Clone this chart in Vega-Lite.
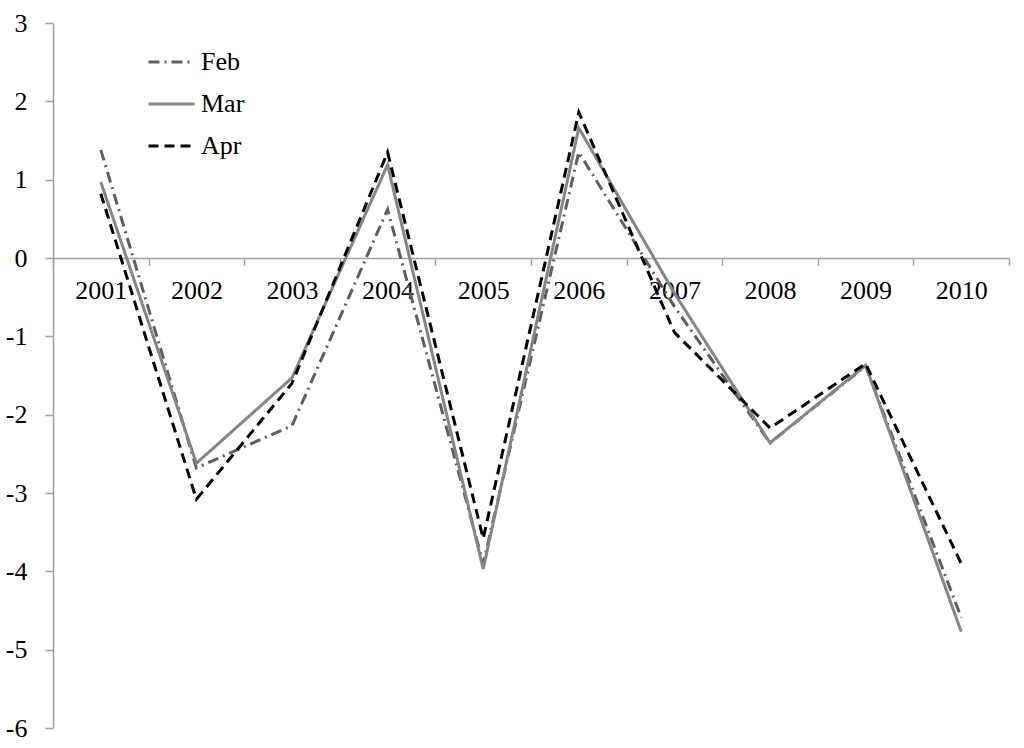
{
  "$schema": "https://vega.github.io/schema/vega-lite/v6.json",
  "width": 956,
  "height": 705,
  "autosize": "none",
  "padding": {"left": 53, "top": 23, "right": 15, "bottom": 20},
  "background": "white",
  "config": {
    "view": {"stroke": null},
    "font": "Liberation Serif"
  },
  "data": {
    "values": [
      {"year": "2001", "month": "Feb", "value": 1.38},
      {"year": "2002", "month": "Feb", "value": -2.68},
      {"year": "2003", "month": "Feb", "value": -2.14},
      {"year": "2004", "month": "Feb", "value": 0.62},
      {"year": "2005", "month": "Feb", "value": -3.9},
      {"year": "2006", "month": "Feb", "value": 1.35},
      {"year": "2007", "month": "Feb", "value": -0.62},
      {"year": "2008", "month": "Feb", "value": -2.36},
      {"year": "2009", "month": "Feb", "value": -1.38},
      {"year": "2010", "month": "Feb", "value": -4.59},
      {"year": "2001", "month": "Mar", "value": 0.97},
      {"year": "2002", "month": "Mar", "value": -2.62},
      {"year": "2003", "month": "Mar", "value": -1.53},
      {"year": "2004", "month": "Mar", "value": 1.19},
      {"year": "2005", "month": "Mar", "value": -3.97},
      {"year": "2006", "month": "Mar", "value": 1.66},
      {"year": "2007", "month": "Mar", "value": -0.45},
      {"year": "2008", "month": "Mar", "value": -2.36},
      {"year": "2009", "month": "Mar", "value": -1.37},
      {"year": "2010", "month": "Mar", "value": -4.77},
      {"year": "2001", "month": "Apr", "value": 0.82},
      {"year": "2002", "month": "Apr", "value": -3.08},
      {"year": "2003", "month": "Apr", "value": -1.6},
      {"year": "2004", "month": "Apr", "value": 1.35},
      {"year": "2005", "month": "Apr", "value": -3.58},
      {"year": "2006", "month": "Apr", "value": 1.86},
      {"year": "2007", "month": "Apr", "value": -0.95},
      {"year": "2008", "month": "Apr", "value": -2.17},
      {"year": "2009", "month": "Apr", "value": -1.35},
      {"year": "2010", "month": "Apr", "value": -3.9}
    ]
  },
  "mark": {"type": "line", "strokeWidth": 3},
  "encoding": {
    "x": {
      "field": "year",
      "type": "ordinal",
      "bandPosition": 0.5,
      "scale": {"type": "band", "paddingInner": 0, "paddingOuter": 0},
      "axis": {
        "title": null,
        "orient": "bottom",
        "offset": -470,
        "tickBand": "extent",
        "labelAngle": 0,
        "labelFontSize": 26,
        "labelColor": "black",
        "labelPadding": 12,
        "tickSize": 7,
        "tickColor": "#a0a0a0",
        "tickWidth": 1.5,
        "domainColor": "#a0a0a0",
        "domainWidth": 1.5,
        "grid": false
      }
    },
    "y": {
      "field": "value",
      "type": "quantitative",
      "scale": {"domain": [-6, 3], "nice": false, "zero": false},
      "axis": {
        "title": null,
        "values": [-6, -5, -4, -3, -2, -1, 0, 1, 2, 3],
        "labelExpr": "datum.value < 0 ? '-' + abs(datum.value) : '' + datum.value",
        "labelFontSize": 26,
        "labelColor": "black",
        "labelPadding": 18,
        "tickSize": 8,
        "tickColor": "#a0a0a0",
        "tickWidth": 1.5,
        "domainColor": "#a0a0a0",
        "domainWidth": 1.5,
        "grid": false
      }
    },
    "color": {
      "field": "month",
      "type": "nominal",
      "scale": {"domain": ["Feb", "Mar", "Apr"], "range": ["#5e5e5e", "#858585", "#000000"]},
      "legend": {
        "title": null,
        "orient": "none",
        "legendX": 94,
        "legendY": 19,
        "padding": 0,
        "symbolType": "stroke",
        "symbolSize": 2116,
        "symbolStrokeWidth": 3,
        "clipHeight": 40,
        "rowPadding": 2,
        "labelFontSize": 26,
        "labelColor": "black",
        "labelOffset": 5
      }
    },
    "strokeDash": {
      "field": "month",
      "type": "nominal",
      "scale": {"domain": ["Feb", "Mar", "Apr"], "range": [[11, 5, 2, 5], [1, 0], [10, 6]]},
      "legend": {
        "title": null,
        "orient": "none",
        "legendX": 94,
        "legendY": 19,
        "padding": 0,
        "symbolType": "stroke",
        "symbolSize": 2116,
        "symbolStrokeWidth": 3,
        "clipHeight": 40,
        "rowPadding": 2,
        "labelFontSize": 26,
        "labelColor": "black",
        "labelOffset": 5
      }
    }
  }
}
